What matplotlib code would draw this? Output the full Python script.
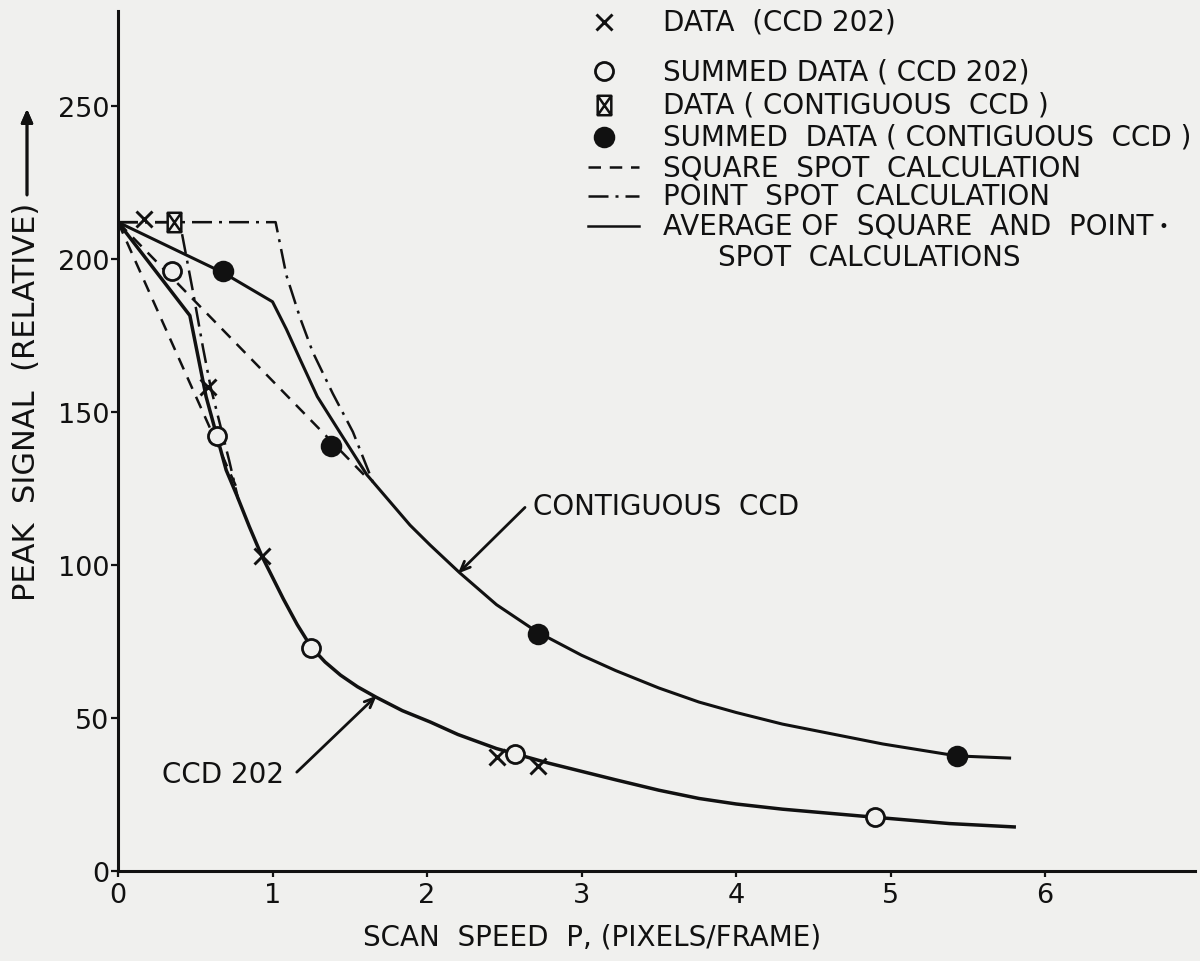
import matplotlib
matplotlib.use("Agg")
from matplotlib import pyplot as plt
from matplotlib.lines import Line2D
from matplotlib.path import Path

# values
ccd_data_x = [0.17, 0.58, 0.93, 2.45, 2.72]
ccd_data_y = [213, 158, 103, 37.3, 34.2]
ccd_sum_x = [0.35, 0.64, 1.25, 2.57, 4.90]
ccd_sum_y = [196, 142, 73, 38.3, 17.5]
contig_data_x = [0.36]
contig_data_y = [212]
contig_sum_x = [0.68, 1.38, 2.72, 5.43]
contig_sum_y = [196, 139, 77.5, 37.5]

# square spot calculation
ccd_square_x = [0, 0.77]
ccd_square_y = [212, 125]
contig_square_x = [0, 1.62]
contig_square_y = [212, 128]

# point spot calculation
ccd_point_x = [0, 0.40, 0.49, 0.55, 0.60, 0.66, 0.72, 0.78]
ccd_point_y = [212, 212, 188, 171, 158, 146, 134, 121]
contig_point_x = [0, 1.02, 1.09, 1.18, 1.26, 1.39, 1.52, 1.65]
contig_point_y = [212, 212, 194.6, 180.5, 169.6, 156, 143.5, 127]

# average of square and point spot
ccd_avg_x = [0, 0.465, 0.57, 0.70, 0.767, 0.85, 0.93, 1.07, 1.16, 1.25, 1.34,
             1.44, 1.55, 1.67, 1.84, 2.02, 2.20, 2.45, 2.79, 3.22, 3.50, 3.76,
             4.00, 4.30, 4.89, 5.38, 5.80]
ccd_avg_y = [212, 181.5, 155, 131, 123, 112.5, 103, 88.9, 80.5, 73.2, 68.3,
             64.0, 60.2, 56.8, 52.4, 48.7, 44.6, 40.0, 35.2, 29.8, 26.4, 23.7,
             21.9, 20.2, 17.6, 15.5, 14.4]
contig_avg_x = [0, 0.68, 1.0, 1.09, 1.18, 1.29, 1.44, 1.61, 1.89, 2.02, 2.21,
                2.45, 2.71, 3.0, 3.22, 3.50, 3.76, 4.00, 4.30, 4.95, 5.43, 5.77]
contig_avg_y = [212, 195.5, 186, 177, 167, 155, 143, 129.5, 113, 106.5, 97.5,
                87, 78.2, 70.5, 65.5, 59.8, 55.2, 51.8, 48, 41.5, 37.6, 36.9]

xticks = [0, 1, 2, 3, 4, 5, 6]
yticks = [0, 50, 100, 150, 200, 250]

legend_labels = ["DATA  (CCD 202)",
                 "SUMMED DATA ( CCD 202)",
                 "DATA ( CONTIGUOUS  CCD )",
                 "SUMMED  DATA ( CONTIGUOUS  CCD )",
                 "SQUARE  SPOT  CALCULATION",
                 "POINT  SPOT  CALCULATION",
                 "AVERAGE OF  SQUARE  AND  POINT"]

BG = "#f0f0ee"
INK = "#111111"
DASH = (0, (5, 3.5))
DASHDOT = (0, (8, 2.8, 1.2, 2.8))

# rectangle with an X inside, for the contiguous CCD data point
boxx = Path([(-0.7, -1), (0.7, -1), (0.7, 1), (-0.7, 1), (-0.7, -1),
             (-0.7, -1), (0.7, 1), (0.7, -1), (-0.7, 1)],
            [Path.MOVETO, Path.LINETO, Path.LINETO, Path.LINETO, Path.CLOSEPOLY,
             Path.MOVETO, Path.LINETO, Path.MOVETO, Path.LINETO])

MARKERS = [dict(marker="x", ms=12, mew=2.1, color=INK),
           dict(marker="o", ms=13, mew=2.0, color=INK, mfc=BG),
           dict(marker=boxx, ms=14, mew=1.8, color=INK, mfc=BG),
           dict(marker="o", ms=14, mew=1.5, color=INK, mfc=INK)]

plt.rcParams["font.family"] = "DejaVu Sans"

fig = plt.figure(figsize=(12, 9.62), dpi=100, facecolor=BG)
ax = fig.add_axes([118 / 1200, 90 / 962, 1077 / 1200, 860 / 962])
ax.set_facecolor(BG)

# calculations
ax.plot(ccd_square_x, ccd_square_y, ls=DASH, lw=1.8, color=INK)
ax.plot(contig_square_x, contig_square_y, ls=DASH, lw=1.8, color=INK)
ax.plot(ccd_point_x, ccd_point_y, ls=DASHDOT, lw=1.8, color=INK)
ax.plot(contig_point_x, contig_point_y, ls=DASHDOT, lw=1.8, color=INK)
ax.plot(ccd_avg_x, ccd_avg_y, lw=2.5, color=INK, solid_joinstyle="round")
ax.plot(contig_avg_x, contig_avg_y, lw=2.2, color=INK, solid_joinstyle="round")

# data points
for (xs, ys), style in zip([(ccd_data_x, ccd_data_y), (ccd_sum_x, ccd_sum_y),
                            (contig_data_x, contig_data_y),
                            (contig_sum_x, contig_sum_y)], MARKERS):
    ax.plot(xs, ys, ls="none", zorder=5, **style)

ax.set_xlim(0, 6.97)
ax.set_ylim(0, 281)
ax.set_xticks(xticks)
ax.set_yticks(yticks)
for s in ["top", "right"]:
    ax.spines[s].set_visible(False)
for s in ["left", "bottom"]:
    ax.spines[s].set_linewidth(2.2)
    ax.spines[s].set_color(INK)
ax.tick_params(axis="y", length=5, width=1.6, pad=1, labelsize=19.5, colors=INK)
ax.tick_params(axis="x", length=4, width=1.6, pad=4, labelsize=19.5, colors=INK)

# curve labels
ax.text(2.686, 119.4, "CONTIGUOUS  CCD", fontsize=20, ha="left", va="center",
        color=INK)
ax.annotate("", xy=(2.2, 97.2), xytext=(2.634, 118.8),
            arrowprops=dict(arrowstyle="->,head_length=0.7,head_width=0.3",
                            lw=2.0, color=INK, shrinkA=0, shrinkB=0))
ax.text(0.283, 31.7, "CCD 202", fontsize=20, ha="left", va="center", color=INK)
ax.annotate("", xy=(1.674, 57.3), xytext=(1.157, 32.3),
            arrowprops=dict(arrowstyle="->,head_length=0.7,head_width=0.3",
                            lw=2.0, color=INK, shrinkA=0, shrinkB=0))

# axis titles
fig.text(592 / 1200, 1 - 938 / 962, "SCAN  SPEED  P, (PIXELS/FRAME)",
         fontsize=20, ha="center", va="center", color=INK)
fig.text(27 / 1200, 1 - 402 / 962, "PEAK  SIGNAL  (RELATIVE)", fontsize=22,
         rotation=90, ha="center", va="center", color=INK)
fig.add_artist(plt.annotate("", xy=(27 / 1200, 1 - 110 / 962),
                            xytext=(27 / 1200, 1 - 196 / 962),
                            xycoords="figure fraction",
                            textcoords="figure fraction",
                            arrowprops=dict(arrowstyle="-|>,head_length=0.8,head_width=0.35",
                                            lw=2.0, color=INK, shrinkA=0, shrinkB=0)))

# legend, drawn by hand to keep the original row spacing
rows = [23, 72, 106, 138, 168, 197, 227]
line_styles = [None, None, None, None, DASH, DASHDOT, "-"]
for i, label in enumerate(legend_labels):
    yf = 1 - rows[i] / 962
    if i < 4:
        fig.add_artist(Line2D([604 / 1200], [yf], ls="none",
                              transform=fig.transFigure, **MARKERS[i]))
    else:
        fig.add_artist(Line2D([588 / 1200, 639 / 1200], [yf, yf],
                              ls=line_styles[i], lw=1.8, color=INK,
                              transform=fig.transFigure))
    fig.text(663 / 1200, yf, label, fontsize=20, ha="left", va="center",
             color=INK)
fig.text(718 / 1200, 1 - 258 / 962, "SPOT  CALCULATIONS", fontsize=20,
         ha="left", va="center", color=INK)
fig.text(1163 / 1200, 1 - 227 / 962, "\u2022", fontsize=12, ha="center",
         va="center", color=INK)

fig.savefig("out.png", dpi=100, facecolor=BG)
